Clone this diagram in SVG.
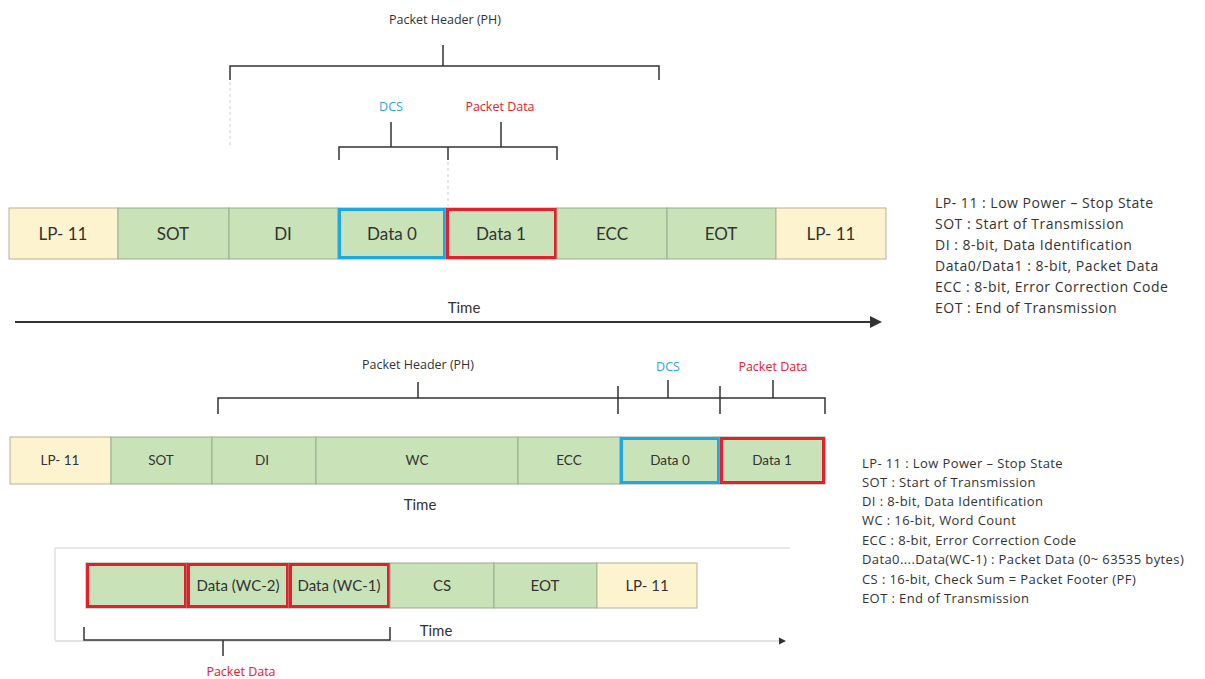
<svg xmlns="http://www.w3.org/2000/svg" width="1205" height="679" viewBox="0 0 1205 679">
<defs>
<style>
.g{fill:#c9e2b8;stroke:#9aab90;stroke-width:1}
.y{fill:#fef3cf;stroke:#b5b09a;stroke-width:1}
.t{font-family:Lato,"Open Sans",sans-serif;fill:#333;text-anchor:middle}
.c1{font-size:17px}
.c2{font-size:13.5px}
.c3{font-size:15px}
.lbl{font-family:"Open Sans",sans-serif;font-size:12.5px;fill:#333;text-anchor:middle}
.leg{font-family:"Open Sans",sans-serif;fill:#333}
.br{fill:none;stroke:#333;stroke-width:1.5}
.blue{fill:none;stroke:#1ea7e4;stroke-width:3}
.red{fill:none;stroke:#e3202b;stroke-width:3}
.faint{stroke:#d0d0d0;stroke-width:1;fill:none}
</style>
<marker id="ah" markerWidth="6" markerHeight="6" refX="5" refY="3" orient="auto"><path d="M0,0 L6,3 L0,6 Z" fill="#333"/></marker>
</defs>
<rect width="1205" height="679" fill="#fff"/>

<g id="connectors">
<path class="br" d="M230,80 V66 H659 V80 M443,66 V45"/>
<path class="br" d="M339,160 V147 H557 V160 M448,147 V160 M391,147 V122 M501,147 V122"/>
<line class="faint" x1="230" y1="82" x2="230" y2="145" stroke-dasharray="3,3"/>
<line class="faint" x1="448" y1="162" x2="448" y2="206" stroke-dasharray="3,3"/>
<line x1="15" y1="322" x2="880" y2="322" stroke="#333" stroke-width="2" marker-end="url(#ah)"/>
<path class="br" d="M218,414 V398 H825 V414 M418,398 V382 M618,386 V414 M720,386 V414 M668,398 V380 M773,398 V380"/>
<path class="faint" d="M790,548 H55 V640"/>
<line x1="55" y1="641" x2="785" y2="641" stroke="#c8c8c8" stroke-width="1.2" marker-end="url(#ah)"/>
<path class="br" d="M84,627 V640 H390 V627 M223,640 V656"/>
</g>

<g id="labels">
<text class="lbl" x="445" y="24">Packet Header (PH)</text>
<text class="lbl" x="391" y="111" style="fill:#2aa8d8">DCS</text>
<text class="lbl" x="500" y="111" style="fill:#e3202b">Packet Data</text>
<text class="t" x="464" y="313" font-size="15">Time</text>
<text class="lbl" x="418" y="369">Packet Header (PH)</text>
<text class="lbl" x="668" y="371" style="fill:#2aa8d8">DCS</text>
<text class="lbl" x="773" y="371" style="fill:#e3202b">Packet Data</text>
<text class="t" x="420" y="510" font-size="15">Time</text>
<text class="t" x="436" y="636" font-size="15">Time</text>
<text class="lbl" x="241" y="676" style="fill:#e3202b">Packet Data</text>
</g>

<g id="row1">
<g id="r1-lp11a"><rect class="y" x="9" y="208" width="109" height="51"/><text class="t c1" x="63" y="240">LP- 11</text></g>
<g id="r1-sot"><rect class="g" x="118" y="208" width="111" height="51"/><text class="t c1" x="173" y="240">SOT</text></g>
<g id="r1-di"><rect class="g" x="229" y="208" width="109" height="51"/><text class="t c1" x="283" y="240">DI</text></g>
<g id="r1-data0"><rect class="g" x="338" y="208" width="108" height="51"/><rect class="blue" x="339.5" y="209.5" width="105" height="48"/><text class="t c1" x="392" y="240">Data 0</text></g>
<g id="r1-data1"><rect class="g" x="446" y="208" width="111" height="51"/><rect class="red" x="447.5" y="209.5" width="108" height="48"/><text class="t c1" x="501" y="240">Data 1</text></g>
<g id="r1-ecc"><rect class="g" x="557" y="208" width="110" height="51"/><text class="t c1" x="612" y="240">ECC</text></g>
<g id="r1-eot"><rect class="g" x="667" y="208" width="109" height="51"/><text class="t c1" x="721" y="240">EOT</text></g>
<g id="r1-lp11b"><rect class="y" x="776" y="208" width="110" height="51"/><text class="t c1" x="831" y="240">LP- 11</text></g>
</g>

<g id="legend1" class="leg" font-size="14" letter-spacing="0.5">
<text x="935" y="208">LP- 11 : Low Power – Stop State</text>
<text x="935" y="229">SOT : Start of Transmission</text>
<text x="935" y="250">DI : 8-bit, Data Identification</text>
<text x="935" y="271">Data0/Data1 : 8-bit, Packet Data</text>
<text x="935" y="292">ECC : 8-bit, Error Correction Code</text>
<text x="935" y="313">EOT : End of Transmission</text>
</g>

<g id="row2">
<g id="r2-lp11"><rect class="y" x="10" y="437" width="101" height="47"/><text class="t c2" x="60" y="465">LP- 11</text></g>
<g id="r2-sot"><rect class="g" x="111" y="437" width="101" height="47"/><text class="t c2" x="161" y="465">SOT</text></g>
<g id="r2-di"><rect class="g" x="212" y="437" width="104" height="47"/><text class="t c2" x="262" y="465">DI</text></g>
<g id="r2-wc"><rect class="g" x="316" y="437" width="202" height="47"/><text class="t c2" x="417" y="465">WC</text></g>
<g id="r2-ecc"><rect class="g" x="518" y="437" width="102" height="47"/><text class="t c2" x="569" y="465">ECC</text></g>
<g id="r2-data0"><rect class="g" x="620" y="437" width="100" height="47"/><rect class="blue" x="621.5" y="438.5" width="97" height="44"/><text class="t c2" x="670" y="465">Data 0</text></g>
<g id="r2-data1"><rect class="g" x="720" y="437" width="105" height="47"/><rect class="red" x="721.5" y="438.5" width="102" height="44"/><text class="t c2" x="772" y="465">Data 1</text></g>
</g>

<g id="row3">
<g id="r3-blank"><rect class="g" x="86" y="563" width="101" height="45"/><rect class="red" x="87.5" y="564.5" width="98" height="42"/></g>
<g id="r3-wc2"><rect class="g" x="187" y="563" width="102" height="45"/><rect class="red" x="188.5" y="564.5" width="99" height="42"/><text class="t c3" x="238" y="591">Data (WC-2)</text></g>
<g id="r3-wc1"><rect class="g" x="289" y="563" width="101" height="45"/><rect class="red" x="290.5" y="564.5" width="98" height="42"/><text class="t c3" x="339" y="591">Data (WC-1)</text></g>
<g id="r3-cs"><rect class="g" x="390" y="563" width="104" height="45"/><text class="t c3" x="442" y="591">CS</text></g>
<g id="r3-eot"><rect class="g" x="494" y="563" width="103" height="45"/><text class="t c3" x="545" y="591">EOT</text></g>
<g id="r3-lp11"><rect class="y" x="597" y="563" width="100" height="45"/><text class="t c3" x="647" y="591">LP- 11</text></g>
</g>

<g id="legend2" class="leg" font-size="13" letter-spacing="0.4">
<text x="862" y="468">LP- 11 : Low Power – Stop State</text>
<text x="862" y="487">SOT : Start of Transmission</text>
<text x="862" y="506">DI : 8-bit, Data Identification</text>
<text x="862" y="525">WC : 16-bit, Word Count</text>
<text x="862" y="545">ECC : 8-bit, Error Correction Code</text>
<text x="862" y="564">Data0....Data(WC-1) : Packet Data (0~ 63535 bytes)</text>
<text x="862" y="584">CS : 16-bit, Check Sum = Packet Footer (PF)</text>
<text x="862" y="603">EOT : End of Transmission</text>
</g>
</svg>
